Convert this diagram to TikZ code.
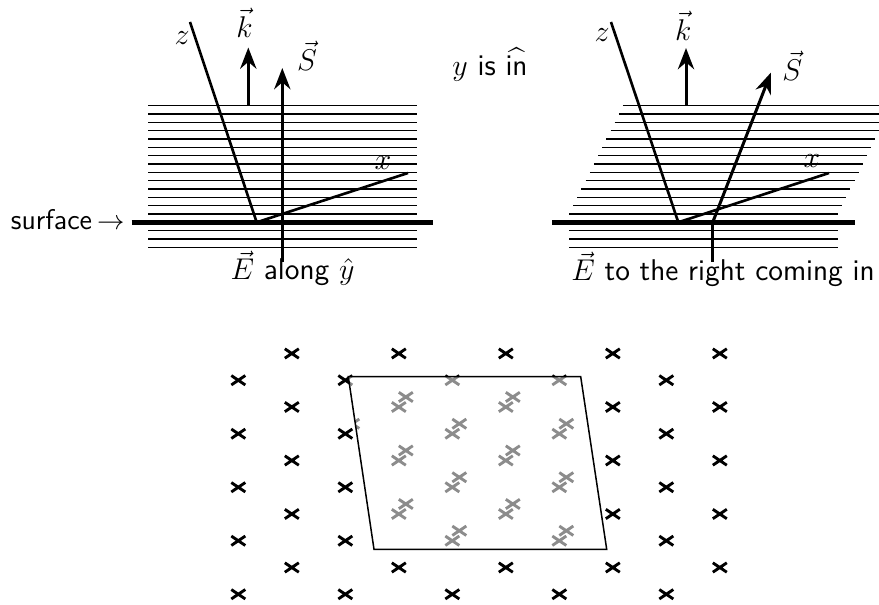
\documentclass[tikz,border=0pt]{standalone}
\usepackage{amsmath}
\usepackage{tikz}
\usetikzlibrary{arrows.meta,positioning}
\tikzset{
  eje/.style={
    line width=1.05pt,
    black
  },
  superficie/.style={
    line width=1.8pt,
    black
  },
  plano/.style={
    line width=0.5pt,
    black
  },
  flecha/.style={
    -{Stealth[length=8.5pt,width=6.5pt]},
    line width=1.2pt
  },
  etiqueta/.style={
    font=\sffamily\fontsize{12}{14.4}\selectfont,
    inner sep=0pt
  },
  aspa/.style={
    line width=1.15pt,
    black
  }
}

\begin{document}
\begin{tikzpicture}[x=0.4pt,y=-0.4pt]
\useasboundingbox (0,0) rectangle (879,605);
% panel izquierdo
\coordinate (o1) at (256.7,222.3);
\coordinate (z1) at (190,22);
\coordinate (x1) at (408,173);
\coordinate (k1a) at (248.3,106);
\coordinate (k1b) at (248.3,47.5);
\coordinate (s1a) at (282.3,262);
\coordinate (s1b) at (282.3,68);
\coordinate (sup1a) at (131.7,222.3);
\coordinate (sup1b) at (433,222.3);
\foreach \k in {1,...,14}
  \draw[plano] (148,{222.3-8.33*\k}) -- (417,{222.3-8.33*\k});
\foreach \k in {1,2,3}
  \draw[plano] (148,{222.3+8.4*\k}) -- (417,{222.3+8.4*\k});
\draw[superficie] (sup1a) -- (sup1b);
\draw[eje] (o1) -- (z1);
\draw[eje] (o1) -- (x1);
\draw[flecha] (k1a) -- (k1b);
\draw[flecha] (s1a) -- (s1b);
\node[etiqueta] (zl1) at (182,38) {$z$};
\node[etiqueta] (xl1) at (383,163) {$x$};
\node[etiqueta] (kl1) at (244.5,23) {$\vec{k}$};
\node[etiqueta] (sl1) at (307,56) {$\vec{S}$};
\node[etiqueta, anchor=base] (el1) at (292.5,280) {$\vec{E}$ along $\hat{y}$};
\node[etiqueta, font=\sffamily\fontsize{11.4}{13.7}\selectfont, anchor=base east] (surf) at (125,229.3) {surface\hspace{2pt}$\rightarrow$};
\node[etiqueta, anchor=base] (yin) at (490,76) {$y$ is $\widehat{\text{in}}$};
% panel derecho
\coordinate (o2) at (678.3,222.3);
\coordinate (z2) at (611,22);
\coordinate (x2) at (829,173);
\coordinate (k2a) at (686,106);
\coordinate (k2b) at (686,48);
\coordinate (e2) at (712.7,262);
\coordinate (s2a) at (712.7,222.3);
\coordinate (s2b) at (771,72.5);
\coordinate (sup2a) at (552,222.3);
\coordinate (sup2b) at (855,222.3);
\foreach \k in {1,...,14}
  \draw[plano] ({569+4.15*(\k-1)},{222.3-8.33*\k}) -- ({838+4.15*(\k-1)},{222.3-8.33*\k});
\foreach \k in {1,2,3}
  \draw[plano] (569,{222.3+8.4*\k}) -- (838,{222.3+8.4*\k});
\draw[superficie] (sup2a) -- (sup2b);
\draw[eje] (o2) -- (z2);
\draw[eje] (o2) -- (x2);
\draw[flecha] (k2a) -- (k2b);
\draw[line width=1.2pt] (e2) -- (s2a);
\draw[flecha] (s2a) -- (s2b);
\node[etiqueta] (zl2) at (602,35) {$z$};
\node[etiqueta] (xl2) at (812,161) {$x$};
\node[etiqueta] (kl2) at (683.3,26) {$\vec{k}$};
\node[etiqueta] (sl2) at (792.3,66) {$\vec{S}$};
\node[etiqueta, anchor=base] (el2) at (723,281) {$\vec{E}$ to the right coming in};
% red de cruces
\coordinate (pa) at (348.3,376.7);
\coordinate (pb) at (580.7,376.7);
\coordinate (pc) at (606.7,549.3);
\coordinate (pd) at (374,549.3);
\foreach \i in {0,...,9}
  \foreach \j in {0,...,9} {
    \pgfmathtruncatemacro\suma{\i+\j}
    \ifodd\suma
      \draw[aspa, shift={({238.3+53.5*\i},{353.5+26.75*\j})}] (-7,-4.7) -- (7,4.7) (-7,4.7) -- (7,-4.7);
    \fi
  }
\fill[white] (pa) -- (pb) -- (pc) -- (pd) -- cycle;
\begin{scope}
  \clip (pa) -- (pb) -- (pc) -- (pd) -- cycle;
  \foreach \i in {0,...,9}
    \foreach \j in {0,...,9} {
      \pgfmathtruncatemacro\suma{\i+\j}
      \ifodd\suma
        \draw[aspa, black!45, shift={({238.3+53.5*\i},{353.5+26.75*\j})}] (-7,-4.7) -- (7,4.7) (-7,4.7) -- (7,-4.7);
        \draw[aspa, black!45, shift={({245.3+53.5*\i},{343.5+26.75*\j})}] (-7,-4.7) -- (7,4.7) (-7,4.7) -- (7,-4.7);
      \fi
    }
\end{scope}
\draw[line width=0.6pt] (pa) -- (pb) -- (pc) -- (pd) -- cycle;
\end{tikzpicture}
\end{document}
